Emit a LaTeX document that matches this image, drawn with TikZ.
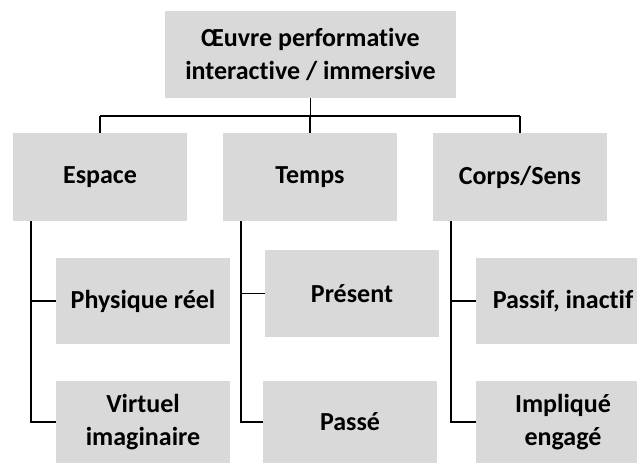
\documentclass[tikz,border=0pt]{standalone}
\usepackage{fontspec}
\setmainfont{Carlito}[Ligatures=NoCommon]
\definecolor{gr}{RGB}{217,217,217}

\begin{document}
\begin{tikzpicture}[x=1pt,y=-1pt,font=\fontsize{26}{33}\selectfont\bfseries,
	box/.style={fill=gr,align=center,inner sep=0pt,minimum width=174pt},
	link/.style={line width=1.2pt}]
	\useasboundingbox (0,0) rectangle (637,464);

	\node[box,minimum width=291pt,minimum height=87pt] (oeuvre) at (310.5,54.5) {Œuvre performative\\interactive / immersive};

	\node[box,minimum height=88pt]	(espace) at (100,177) {Espace};
	\node[box,minimum height=88pt]	(temps)  at (310,177) {Temps};
	\node[box,minimum height=88pt]	(corps)  at (520,177) {Corps/Sens};

	\node[box,minimum height=86pt]	(physique) at (143,301)   {Physique réel};
	\node[box,minimum height=82pt]	(virtuel)  at (143,422)   {Virtuel\\imaginaire};
	\node[box,minimum height=87pt]	(present)  at (352,293.5) {Présent};
	\node[box,minimum height=82pt]	(passe)    at (350,422)   {Passé};
	\node[box,minimum height=86pt]	(passif)   at (563,301)   {Passif, inactif};
	\node[box,minimum height=82pt]	(implique) at (563,422)   {Impliqué\\engagé};

	\coordinate (bar) at (0,116);
	\draw[link]		(oeuvre.south) -- (oeuvre.south |- bar);
	\draw[link]		(espace.north |- bar) -- (corps.north |- bar);
	\draw[link]		(espace.north) -- (espace.north |- bar);
	\draw[link]		(temps.north) -- (temps.north |- bar);
	\draw[link]		(corps.north) -- (corps.north |- bar);

	\coordinate (sp1) at (31,221);
	\coordinate (sp2) at (241,221);
	\coordinate (sp3) at (451,221);
	\draw[link]		(sp1) |- (virtuel.west);
	\draw[link]		(sp1 |- physique.west) -- (physique.west);
	\draw[link]		(sp2) |- (passe.west);
	\draw[link]		(sp2 |- present.west) -- (present.west);
	\draw[link]		(sp3) |- (implique.west);
	\draw[link]		(sp3 |- passif.west) -- (passif.west);
\end{tikzpicture}
\end{document}
